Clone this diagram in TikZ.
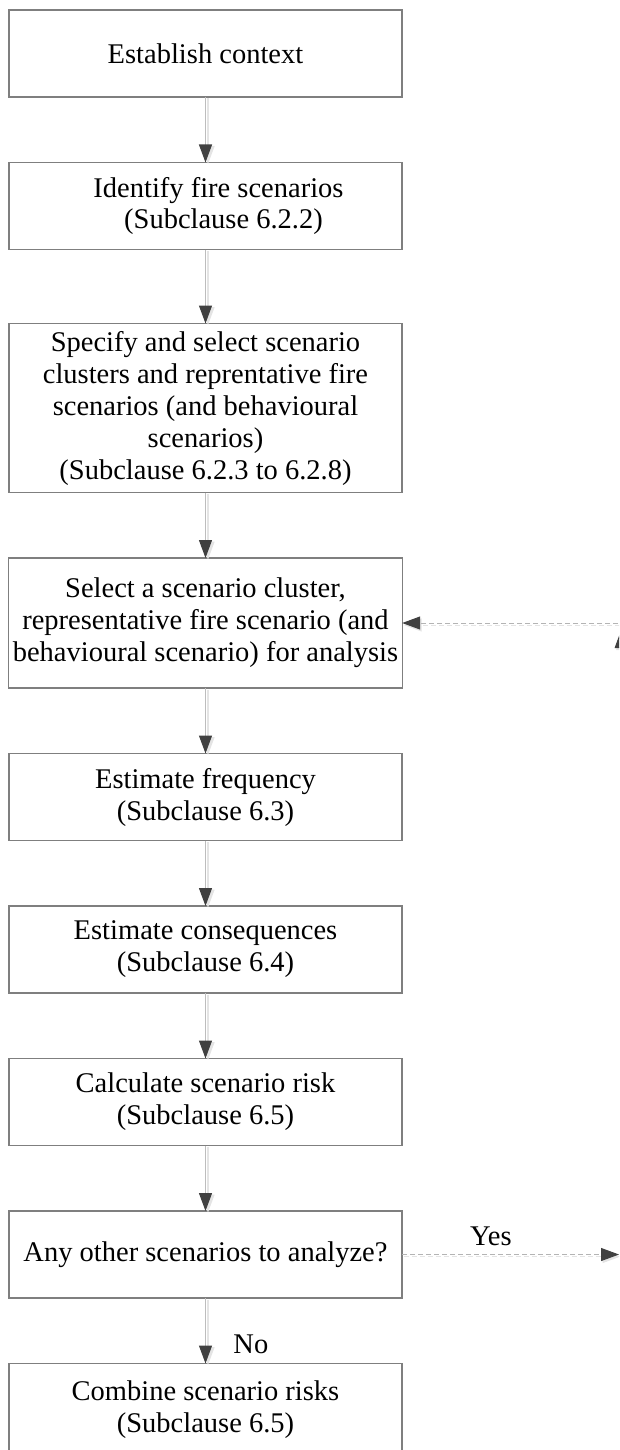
\documentclass[tikz,border=0pt]{standalone}
\usepackage{fontspec}
\setmainfont{Liberation Serif}
\usetikzlibrary{positioning,arrows.meta}
\definecolor{boxline}{HTML}{7F7F7F}
\definecolor{linkline}{HTML}{BDBDBD}
\definecolor{dashline}{HTML}{B4B4B4}
\definecolor{shade}{HTML}{E4E4E4}
\definecolor{tipfill}{HTML}{404040}
\begin{document}
\begin{tikzpicture}[x=1pt, y=1pt, node distance={65.5pt},
        main/.style = {draw=boxline, line width=1.2pt, minimum width=393pt, minimum height=87pt, align=center, inner sep=4pt, outer sep=0pt, font=\fontsize{28.5}{32}\selectfont},
        link/.style = {draw=linkline, line width=1.2pt, -{Triangle[length=18pt,width=13pt,color=tipfill]},
            preaction={draw=shade, line width=1.6pt, -{Triangle[length=18pt,width=13pt,color=shade]}, transform canvas={xshift=2.5pt,yshift=-1.5pt}}},
        dashlink/.style = {draw=dashline, line width=1pt, dash pattern=on 5pt off 3pt, -{Triangle[length=18pt,width=13pt,color=tipfill]},
            preaction={draw=shade, line width=1pt, dash pattern=on 5pt off 3pt, -{Triangle[length=18pt,width=13pt,color=shade]}, transform canvas={xshift=1.5pt,yshift=-2pt}}},
        lbl/.style = {font=\fontsize{28.5}{32}\selectfont}]
        \useasboundingbox (0,0) rectangle (619,-1450);
        \clip (0,0) rectangle (619,-1450);
        \node[main] (1) at (205.5,-53.5) {Establish context};
        \node[main] (2) [below=of 1] {\hspace*{26pt}Identify fire scenarios\\\hspace*{36pt}(Subclause 6.2.2)};
        \node[main, minimum height=169pt] (3) [below=74pt of 2] {Specify and select scenario\\clusters and reprentative fire\\scenarios (and behavioural\\scenarios)\\(Subclause 6.2.3 to 6.2.8)};
        \node[main, minimum height=130pt] (4) [below=of 3] {Select a scenario cluster,\\representative fire scenario (and\\behavioural scenario) for analysis};
        \node[main] (5) [below=of 4] {Estimate frequency\\(Subclause 6.3)};
        \node[main] (6) [below=of 5] {Estimate consequences\\(Subclause 6.4)};
        \node[main] (7) [below=of 6] {Calculate scenario risk\\(Subclause 6.5)};
        \node[main] (8) [below=of 7] {Any other scenarios to analyze?};
        \node[main, minimum height=92pt] (9) [below=of 8] {Combine scenario risks\\(Subclause 6.5)};
        \coordinate (yes) at ([xshift=217pt]8.east);
        \coordinate (up) at ([xshift=219pt]8.east);
        \coordinate (upend) at ([xshift=219pt,yshift=-7pt]4.east);
        \coordinate (back) at ([xshift=240pt]4.east);
        \draw[link] (1) -- (2);
        \draw[link] (2) -- (3);
        \draw[link] (3) -- (4);
        \draw[link] (4) -- (5);
        \draw[link] (5) -- (6);
        \draw[link] (6) -- (7);
        \draw[link] (7) -- (8);
        \draw[link] (8) -- node[lbl, pos=0.7, right=24pt] {No} (9);
        \draw[dashlink] (8.east) -- node[lbl, pos=0.41, above=5pt] {Yes} (yes);
        \draw[dashlink] (up) -- (upend);
        \draw[dashlink] (back) -- (4.east);
    \end{tikzpicture}
\end{document}
